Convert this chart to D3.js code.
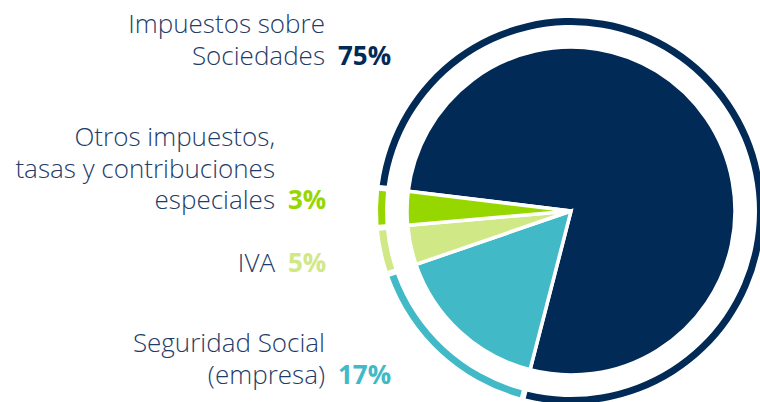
<!DOCTYPE html>
<html>
<head>
<meta charset="utf-8">
<script src="https://cdn.jsdelivr.net/npm/d3@7"></script>
<style>
  body { margin: 0; background: #fff; }
  svg { display: block; }
</style>
</head>
<body>
<script>
// Data
const categories = ["Impuestos sobre Sociedades", "Seguridad Social (empresa)", "IVA", "Otros impuestos, tasas y contribuciones especiales"];
const labelLines = [
  ["Impuestos sobre", "Sociedades"],
  ["Seguridad Social", "(empresa)"],
  ["IVA"],
  ["Otros impuestos,", "tasas y contribuciones", "especiales"]
];
const percentLabels = ["75%", "17%", "5%", "3%"];
// slice sizes as they are drawn in the picture (clockwise from the navy slice)
const shares = [77.1, 15.7, 3.9, 3.3];
const colors = ["#022a56", "#41b9c6", "#d1e887", "#97d700"];

const width = 760, height = 402;
const cx = 571, cy = 211;
const pieRadius = 164;

// label layout: right edge of text and baseline of first line
const labelPos = [
  { x: 325, y: 33 },
  { x: 325, y: 352 },
  { x: 275, y: 272 },
  { x: 275, y: 146 }
];
const lineHeight = 31.5;

const svg = d3.select("body")
  .append("svg")
  .attr("width", width)
  .attr("height", height);

const pie = d3.pie()
  .sort(null)
  .value(d => d)
  .startAngle(-83.1 * Math.PI / 180)
  .endAngle((360 - 83.1) * Math.PI / 180);

const arcs = pie(shares);

const g = svg.append("g")
  .attr("transform", `translate(${cx},${cy})`);

// outer ring
const ring = d3.arc()
  .innerRadius(186)
  .outerRadius(193)
  .padAngle(0.022);

g.selectAll("path.ring")
  .data(arcs)
  .enter()
  .append("path")
  .attr("class", "ring")
  .attr("d", ring)
  .attr("fill", (d, i) => colors[i]);

// pie slices
const slice = d3.arc()
  .innerRadius(0)
  .outerRadius(pieRadius);

g.selectAll("path.slice")
  .data(arcs)
  .enter()
  .append("path")
  .attr("class", "slice")
  .attr("d", slice)
  .attr("fill", (d, i) => colors[i])
  .attr("stroke", "#fff")
  .attr("stroke-width", 3.5)
  .attr("stroke-linejoin", "miter");

// labels
const labels = svg.selectAll("g.label")
  .data(categories)
  .enter()
  .append("g")
  .attr("class", "label");

labels.each(function (d, i) {
  const lg = d3.select(this);
  const pos = labelPos[i];
  labelLines[i].forEach((line, j) => {
    lg.append("text")
      .attr("x", pos.x)
      .attr("y", pos.y + j * lineHeight)
      .attr("text-anchor", "end")
      .attr("font-family", "'Open Sans', sans-serif")
      .attr("font-weight", 300)
      .attr("font-size", 26)
      .attr("fill", "#1f3c68")
      .text(line);
  });
  lg.append("text")
    .attr("x", pos.x + 13)
    .attr("y", pos.y + (labelLines[i].length - 1) * lineHeight)
    .attr("font-family", "'Open Sans', sans-serif")
    .attr("font-weight", 700)
    .attr("font-size", 26)
    .attr("fill", colors[i])
    .text(percentLabels[i]);
});
</script>
</body>
</html>
